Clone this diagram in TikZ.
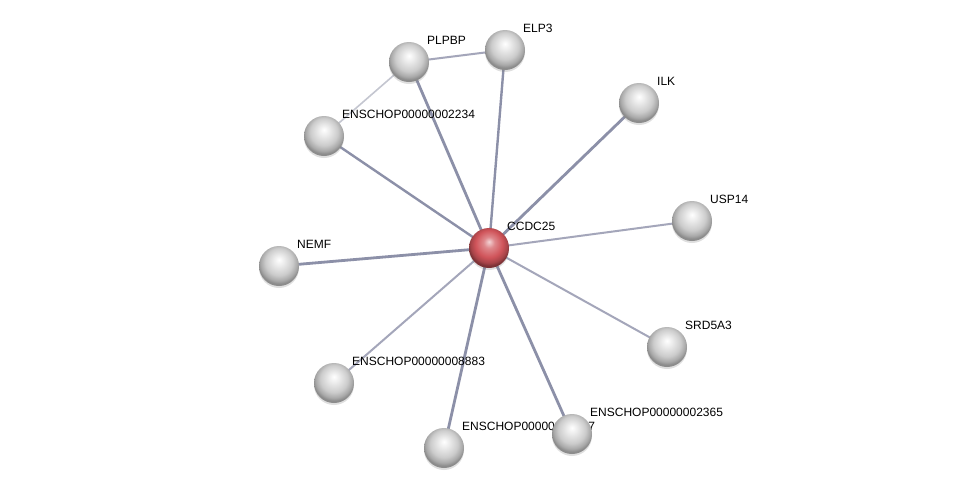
\documentclass[tikz,border=0pt]{standalone}
\usepackage{fontspec}
\setmainfont{Liberation Sans}
\usetikzlibrary{positioning, shadows}

\definecolor{edgedark}{RGB}{140,144,168}
\definecolor{edgelight}{RGB}{164,166,186}
\definecolor{edgepale}{RGB}{196,198,208}
\definecolor{hubred}{RGB}{208,84,90}

\pgfdeclareradialshading{protball}{\pgfpoint{0bp}{8bp}}{%
  color(0bp)=(white); color(7bp)=(white!92!black); color(17bp)=(white!80!black);
  color(23bp)=(white!66!black); color(26bp)=(white!55!black); color(50bp)=(white!55!black)}
\pgfdeclareradialshading{hubball}{\pgfpoint{0bp}{8bp}}{%
  color(0bp)=(hubred!25!white); color(7bp)=(hubred!70!white); color(17bp)=(hubred);
  color(23bp)=(hubred!80!black); color(26bp)=(hubred!60!black); color(50bp)=(hubred!60!black)}

\begin{document}
\begin{tikzpicture}[
    x=1pt, y=-1pt,
    prot/.style={circle, minimum size=40pt, inner sep=0pt, shading=protball,
      drop shadow={shadow xshift=0pt, shadow yshift=-2pt, opacity=0.25}},
    hub/.style={prot, shading=hubball},
    lbl/.style={anchor=base west, inner sep=0pt, font=\fontsize{12}{14}\selectfont},
    strong/.style={draw=edgedark, line width=2.8pt},
    weak/.style={draw=edgelight, line width=2pt},
    faint/.style={draw=edgepale, line width=1.6pt}
]
\useasboundingbox[fill=white] (0,0) rectangle (975,493);

% protein positions
\coordinate (ccdc25) at (489,248);
\coordinate (plpbp) at (409,62);
\coordinate (elp3) at (505,50);
\coordinate (ilk) at (639,103);
\coordinate (usp14) at (692,221);
\coordinate (srd5a3) at (667,347);
\coordinate (ens2365) at (572,434);
\coordinate (ensHid) at (444,448);
\coordinate (ens8883) at (334,383);
\coordinate (nemf) at (279,266);
\coordinate (ens2234) at (324,136);

% interactions
\draw[strong] (ccdc25) -- (plpbp);
\draw[strong, line width=2.4pt] (ccdc25) -- (elp3);
\draw[strong] (ccdc25) -- (ilk);
\draw[weak] (ccdc25) -- (usp14);
\draw[weak] (ccdc25) -- (srd5a3);
\draw[strong] (ccdc25) -- (ens2365);
\draw[strong] (ccdc25) -- (ensHid);
\draw[weak] (ccdc25) -- (ens8883);
\draw[strong] (ccdc25) -- (nemf);
\draw[strong, line width=2.4pt] (ccdc25) -- (ens2234);
\draw[weak] (plpbp) -- (elp3);
\draw[faint] (plpbp) -- (ens2234);

% labels
\node[lbl] (ccdc25L) at ([shift={(18,-18)}]ccdc25) {CCDC25};
\node[lbl] (plpbpL) at ([shift={(18,-18)}]plpbp) {PLPBP};
\node[lbl] (elp3L) at ([shift={(18,-18)}]elp3) {ELP3};
\node[lbl] (ilkL) at ([shift={(18,-18)}]ilk) {ILK};
\node[lbl] (usp14L) at ([shift={(18,-18)}]usp14) {USP14};
\node[lbl] (srd5a3L) at ([shift={(18,-18)}]srd5a3) {SRD5A3};
\node[lbl] (ens2365L) at ([shift={(18,-18)}]ens2365) {ENSCHOP00000002365};
\node[lbl] (ensHidL) at ([shift={(18,-18)}]ensHid) {ENSCHOP00000005807};
\node[lbl] (ens8883L) at ([shift={(18,-18)}]ens8883) {ENSCHOP00000008883};
\node[lbl] (nemfL) at ([shift={(18,-18)}]nemf) {NEMF};
\node[lbl] (ens2234L) at ([shift={(18,-18)}]ens2234) {ENSCHOP00000002234};

% proteins
\node[hub] (ccdc25N) at (ccdc25) {};
\foreach \p in {plpbp, elp3, ilk, usp14, srd5a3, ens2365, ensHid, ens8883, nemf, ens2234}
  \node[prot] (\p N) at (\p) {};
\end{tikzpicture}
\end{document}
